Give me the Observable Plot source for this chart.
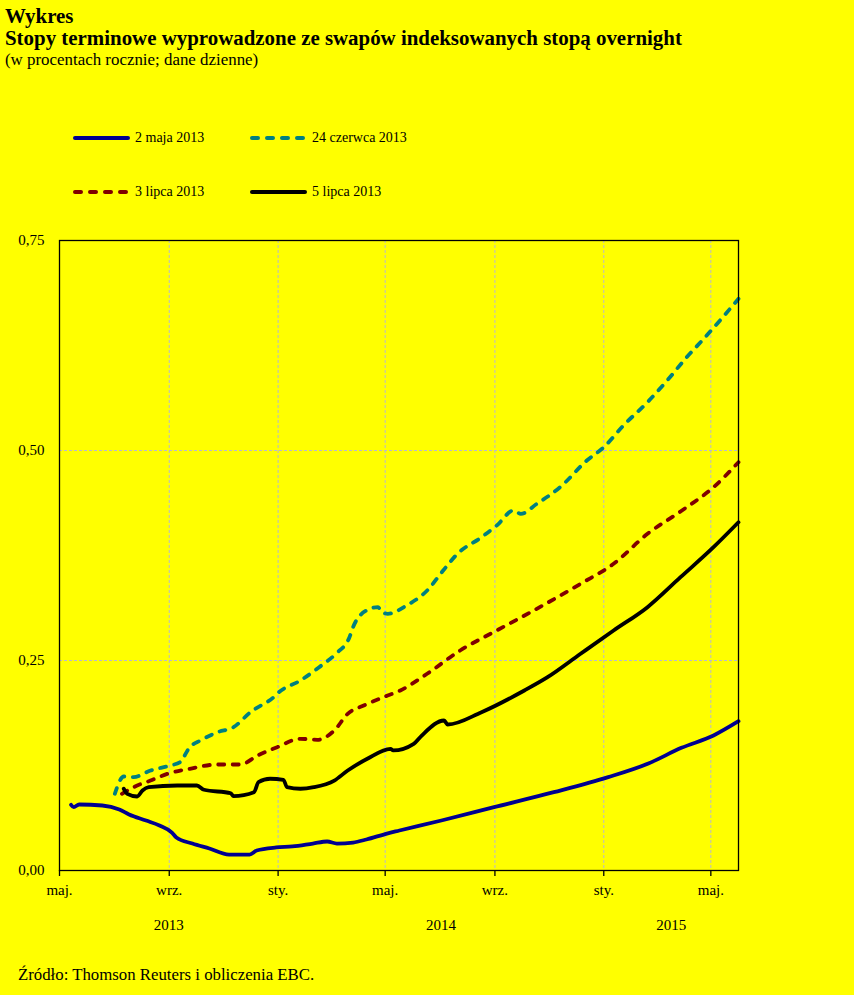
<!DOCTYPE html>
<html>
<head>
<meta charset="utf-8">
<script src="https://cdn.jsdelivr.net/npm/d3@7"></script>
<script src="https://cdn.jsdelivr.net/npm/@observablehq/plot@0.6"></script>
<style>
  html, body { margin: 0; padding: 0; background: #ffff00; }
  body { width: 854px; height: 995px; position: relative; overflow: hidden; font-family: "Liberation Serif", "Times New Roman", serif; color: #000; }
  .t { position: absolute; left: 5px; white-space: nowrap; line-height: 1; }
  #t1 { top: 6px; font-size: 20.9px; font-weight: bold; }
  #t2 { top: 28px; font-size: 20.9px; font-weight: bold; }
  #t3 { top: 52px; font-size: 16.9px; }
  #legend { position: absolute; left: 0; top: 0; }
  .li { position: absolute; font-size: 14px; white-space: nowrap; display: flex; align-items: center; }
  .li svg { margin-right: 5px; }
  #chart { position: absolute; left: 0; top: 220px; }
  #src { position: absolute; left: 18px; top: 967px; font-size: 16.8px; white-space: nowrap; line-height: 1; }
</style>
</head>
<body>
<div class="t" id="t1">Wykres</div>
<div class="t" id="t2">Stopy terminowe wyprowadzone ze swapów indeksowanych stopą overnight</div>
<div class="t" id="t3">(w procentach rocznie; dane dzienne)</div>
<div id="legend"></div>
<div id="chart"></div>
<div id="src">Źródło: Thomson Reuters i obliczenia EBC.</div>
<script>
// ---- data ----
const seriesNames = ["2 maja 2013", "24 czerwca 2013", "3 lipca 2013", "5 lipca 2013"];
const seriesColors = ["#000090", "#008080", "#800000", "#000000"];
const seriesDashed = [false, true, true, false];

const may2 = [
  ["2013-05-14", 0.0782], ["2013-05-17", 0.0754], ["2013-05-23", 0.0786], ["2013-06-18", 0.0774],
  ["2013-07-07", 0.0726], ["2013-07-18", 0.0667], ["2013-08-06", 0.0595], ["2013-08-21", 0.0536],
  ["2013-09-04", 0.0452], ["2013-09-09", 0.0393], ["2013-09-27", 0.0321], ["2013-10-16", 0.0262],
  ["2013-11-07", 0.0190], ["2013-11-30", 0.0190], ["2013-12-08", 0.0238], ["2013-12-30", 0.0274],
  ["2014-01-17", 0.0286], ["2014-02-09", 0.0321], ["2014-02-25", 0.0345], ["2014-03-08", 0.0321],
  ["2014-03-26", 0.0333], ["2014-04-10", 0.0369], ["2014-05-03", 0.0440], ["2014-05-17", 0.0476],
  ["2014-07-03", 0.0595], ["2014-08-31", 0.0754], ["2014-11-06", 0.0932], ["2015-01-06", 0.1111],
  ["2015-02-20", 0.1274], ["2015-03-29", 0.1460], ["2015-05-04", 0.1607], ["2015-06-01", 0.1777]
];
const jun24 = [
  ["2013-07-02", 0.0913], ["2013-07-12", 0.1119], ["2013-07-23", 0.1111], ["2013-08-11", 0.1190],
  ["2013-09-02", 0.1250], ["2013-09-13", 0.1289], ["2013-09-24", 0.1468], ["2013-10-06", 0.1548],
  ["2013-10-25", 0.1646], ["2013-11-12", 0.1706], ["2013-12-01", 0.1885], ["2013-12-27", 0.2063],
  ["2014-01-02", 0.2123], ["2014-01-26", 0.2262], ["2014-02-16", 0.2420], ["2014-03-07", 0.2583],
  ["2014-03-22", 0.2777], ["2014-03-26", 0.2896], ["2014-04-10", 0.3095], ["2014-04-23", 0.3135],
  ["2014-04-27", 0.3075], ["2014-05-04", 0.3056], ["2014-05-25", 0.3155], ["2014-06-17", 0.3333],
  ["2014-07-05", 0.3571], ["2014-07-21", 0.3770], ["2014-08-17", 0.3968], ["2014-09-03", 0.4107],
  ["2014-09-22", 0.4286], ["2014-09-30", 0.4246], ["2014-10-18", 0.4365], ["2014-11-13", 0.4563],
  ["2014-12-13", 0.4881], ["2015-01-01", 0.5039], ["2015-01-23", 0.5298], ["2015-02-19", 0.5575],
  ["2015-03-13", 0.5833], ["2015-04-04", 0.6111], ["2015-04-23", 0.6330], ["2015-05-16", 0.6607],
  ["2015-06-01", 0.6806]
];
const jul3 = [
  ["2013-07-10", 0.0913], ["2013-07-23", 0.0992], ["2013-08-11", 0.1071], ["2013-08-30", 0.1151],
  ["2013-09-24", 0.1211], ["2013-10-25", 0.1262], ["2013-11-20", 0.1262], ["2013-12-09", 0.1369],
  ["2013-12-31", 0.1468], ["2014-01-26", 0.1568], ["2014-02-14", 0.1556], ["2014-03-05", 0.1667],
  ["2014-03-20", 0.1865], ["2014-04-07", 0.1964], ["2014-04-29", 0.2063], ["2014-05-18", 0.2143],
  ["2014-06-17", 0.2342], ["2014-07-24", 0.2619], ["2014-09-03", 0.2857], ["2014-10-11", 0.3075],
  ["2014-12-06", 0.3413], ["2015-01-12", 0.3651], ["2015-02-19", 0.4008], ["2015-03-28", 0.4274],
  ["2015-05-04", 0.4563], ["2015-06-01", 0.4861]
];
const jul5 = [
  ["2013-07-12", 0.0973], ["2013-07-16", 0.0913], ["2013-07-27", 0.0881], ["2013-08-02", 0.0952],
  ["2013-08-09", 0.0992], ["2013-09-10", 0.1012], ["2013-10-02", 0.1012], ["2013-10-10", 0.0961],
  ["2013-11-09", 0.0920], ["2013-11-12", 0.0885], ["2013-12-05", 0.0932], ["2013-12-10", 0.1051],
  ["2013-12-23", 0.1092], ["2014-01-07", 0.1080], ["2014-01-11", 0.0992], ["2014-01-26", 0.0973],
  ["2014-02-10", 0.0992], ["2014-03-05", 0.1071], ["2014-03-20", 0.1190], ["2014-04-11", 0.1330],
  ["2014-05-07", 0.1449], ["2014-05-10", 0.1429], ["2014-06-02", 0.1508], ["2014-06-11", 0.1607],
  ["2014-07-06", 0.1786], ["2014-07-10", 0.1738], ["2014-08-17", 0.1885], ["2014-10-04", 0.2143],
  ["2014-10-30", 0.2301], ["2014-12-06", 0.2580], ["2015-01-12", 0.2857], ["2015-02-19", 0.3135],
  ["2015-03-28", 0.3492], ["2015-05-04", 0.3849], ["2015-06-01", 0.4146]
];
const seriesData = [may2, jun24, jul3, jul5];

const monthLabels = ["sty.", "lut.", "mar.", "kwi.", "maj.", "cze.", "lip.", "sie.", "wrz.", "paź.", "lis.", "gru."];
const yearLabels = ["2013", "2014", "2015"];
const yTicks = [0, 0.25, 0.5, 0.75];
const xStart = "2013-05-01", xEnd = "2015-06-01";

// ---- build ----
const d0 = new Date(xStart), d1 = new Date(xEnd);
const rows = seriesData.map((s, i) => s.map(([d, v]) => ({date: new Date(d), value: v, series: seriesNames[i]})));
const xTicks = d3.utcMonth.every(4).range(d0, new Date(+d1 + 1));
const years = yearLabels.map(y => {
  const a = new Date(Math.max(+d0, Date.UTC(+y, 0, 1)));
  const b = new Date(Math.min(+d1, Date.UTC(+y + 1, 0, 1)));
  return {label: y, mid: new Date((+a + +b) / 2)};
});

const lineMarks = rows.map((r, i) => Plot.line(r, {
  x: "date", y: "value", curve: "monotone-x",
  stroke: seriesColors[i], strokeWidth: 3.8,
  strokeLinejoin: "round", strokeLinecap: "round",
  strokeDasharray: seriesDashed[i] ? "6,8.5" : null
}));

const chart = Plot.plot({
  width: 854, height: 730,
  marginLeft: 59, marginRight: 116, marginTop: 20, marginBottom: 80,
  style: {background: "transparent", fontFamily: "Liberation Serif, serif", fontSize: "14px", color: "#000", overflow: "visible"},
  x: {type: "utc", domain: [d0, d1], label: null},
  y: {domain: [0, 0.75], label: null},
  marks: [
    Plot.gridX(xTicks, {stroke: "#b8b8cc", strokeOpacity: 1, strokeWidth: 1, strokeDasharray: "3,2"}),
    Plot.gridY(yTicks, {stroke: "#b8b8cc", strokeOpacity: 1, strokeWidth: 1, strokeDasharray: "3,2"}),
    ...lineMarks,
    Plot.frame({stroke: "#000", strokeWidth: 1.3}),
    Plot.axisX(xTicks, {tickSize: 6, tickPadding: 8, tickFormat: d => monthLabels[d.getUTCMonth()], stroke: "#000", strokeWidth: 1.3, fill: "#000", fontSize: 15}),
    Plot.axisY(yTicks, {tickSize: 0, tickPadding: 15, tickFormat: d => d.toFixed(2).replace(".", ","), fill: "#000", fontSize: 15}),
    Plot.text(years, {x: "mid", text: "label", frameAnchor: "bottom", dy: 59, fill: "#000", fontSize: 15})
  ]
});
document.getElementById("chart").appendChild(chart);

// ---- legend ----
const legend = document.getElementById("legend");
const legendPos = [[73, 138], [250, 138], [73, 192], [250, 192]];
seriesNames.forEach((name, i) => {
  const div = document.createElement("div");
  div.className = "li";
  div.style.left = legendPos[i][0] + "px";
  div.style.top = (legendPos[i][1] - 9) + "px";
  const ns = "http://www.w3.org/2000/svg";
  const svg = document.createElementNS(ns, "svg");
  svg.setAttribute("width", 57); svg.setAttribute("height", 18);
  const ln = document.createElementNS(ns, "line");
  ln.setAttribute("x1", 2); ln.setAttribute("x2", 55);
  ln.setAttribute("y1", 9); ln.setAttribute("y2", 9);
  ln.setAttribute("stroke", seriesColors[i]);
  ln.setAttribute("stroke-width", 4);
  ln.setAttribute("stroke-linecap", "round");
  if (seriesDashed[i]) ln.setAttribute("stroke-dasharray", "6,9");
  svg.appendChild(ln);
  div.appendChild(svg);
  const sp = document.createElement("span");
  sp.textContent = name;
  div.appendChild(sp);
  legend.appendChild(div);
});
</script>
</body>
</html>
